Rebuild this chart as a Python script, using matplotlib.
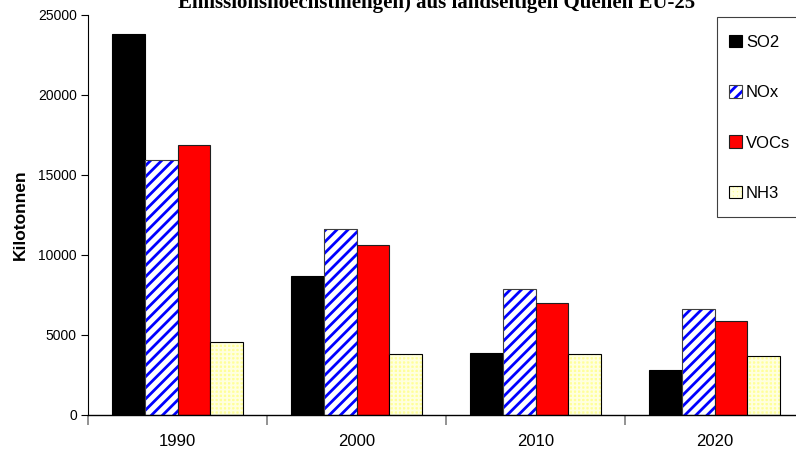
import matplotlib
matplotlib.use("Agg")
import matplotlib.pyplot as plt
from matplotlib.patches import Rectangle
import numpy as np

plt.rcParams['font.family'] = ['Liberation Sans', 'DejaVu Sans']
plt.rcParams['hatch.linewidth'] = 2.0

years = ['1990', '2000', '2010', '2020']
series = ['SO2', 'NOx', 'VOCs', 'NH3']
so2 = [23800, 8700, 3900, 2800]
nox = [15950, 11600, 7900, 6600]
vocs = [16850, 10650, 7000, 5900]
nh3 = [4550, 3800, 3800, 3700]

title = 'Emissionshoechstmengen) aus landseitigen Quellen EU-25'
ylabel = 'Kilotonnen'

fig = plt.figure(figsize=(7.96, 4.55), dpi=100)
ax = fig.add_axes([88/796, 40/455, 716/796, 400/455])

x = np.arange(len(years))
w = 0.183
offsets = (np.arange(4) - 1.5) * w

# SO2
h0 = ax.bar(x + offsets[0], so2, w, facecolor='black', edgecolor='black', linewidth=0.8)
# NOx : white with blue diagonal stripes
h1 = ax.bar(x + offsets[1], nox, w, facecolor='white', edgecolor='#0000FF', hatch='///', linewidth=0)
o1 = ax.bar(x + offsets[1], nox, w, fill=False, edgecolor='#404040', linewidth=0.8)
# VOCs
h2 = ax.bar(x + offsets[2], vocs, w, facecolor='#FF0000', edgecolor='#202020', linewidth=0.8)
# NH3 light yellow checker
h3 = ax.bar(x + offsets[3], nh3, w, facecolor='#FFFF99', edgecolor='#FFFFE0', hatch='++++', linewidth=0)
for p in h3:
    try:
        p.set_hatch_linewidth(1.3)
    except Exception:
        pass
o3 = ax.bar(x + offsets[3], nh3, w, fill=False, edgecolor='black', linewidth=0.8)

ax.set_xlim(-0.5, 3.5)
ax.set_ylim(0, 25000)
ax.set_yticks(np.arange(0, 25001, 5000))
ax.tick_params(axis='y', labelsize=10, length=5, width=0.8, pad=3)
ax.set_xticks(np.arange(-0.5, 4.0, 1.0))
ax.set_xticklabels([])
ax.set_xticks(x, minor=True)
ax.set_xticklabels(years, minor=True, fontsize=12)
ax.tick_params(axis='x', which='major', length=7, width=1.2, color='#808080')
ax.tick_params(axis='x', which='minor', length=0, pad=14)

for s in ['top', 'right']:
    ax.spines[s].set_visible(False)
ax.spines['left'].set_linewidth(0.8)
ax.spines['bottom'].set_linewidth(1.0)

ax.set_ylabel(ylabel, fontsize=12.5, fontweight='bold', labelpad=7)

fig.text(0.548, 1.016, title, ha='center', va='top', fontsize=15,
         fontweight='bold', family=['Liberation Serif', 'DejaVu Serif'])

# legend frame
fig.patches.append(Rectangle((717/796, 1 - 217/455), 100/796, 200/455,
                             transform=fig.transFigure, facecolor='white',
                             edgecolor='#404040', linewidth=0.8, zorder=2))
leg = fig.legend([h0[0], (h1[0], o1[0]), h2[0], (h3[0], o3[0])], series,
                 loc='upper left', bbox_to_anchor=(727/796, 1 - 33/455),
                 fontsize=12, handlelength=0.78, handleheight=0.78, handletextpad=0.25,
                 labelspacing=2.12, borderpad=0.1, frameon=False, borderaxespad=0)
leg.set_zorder(3)

fig.savefig('out.png', dpi=100)
